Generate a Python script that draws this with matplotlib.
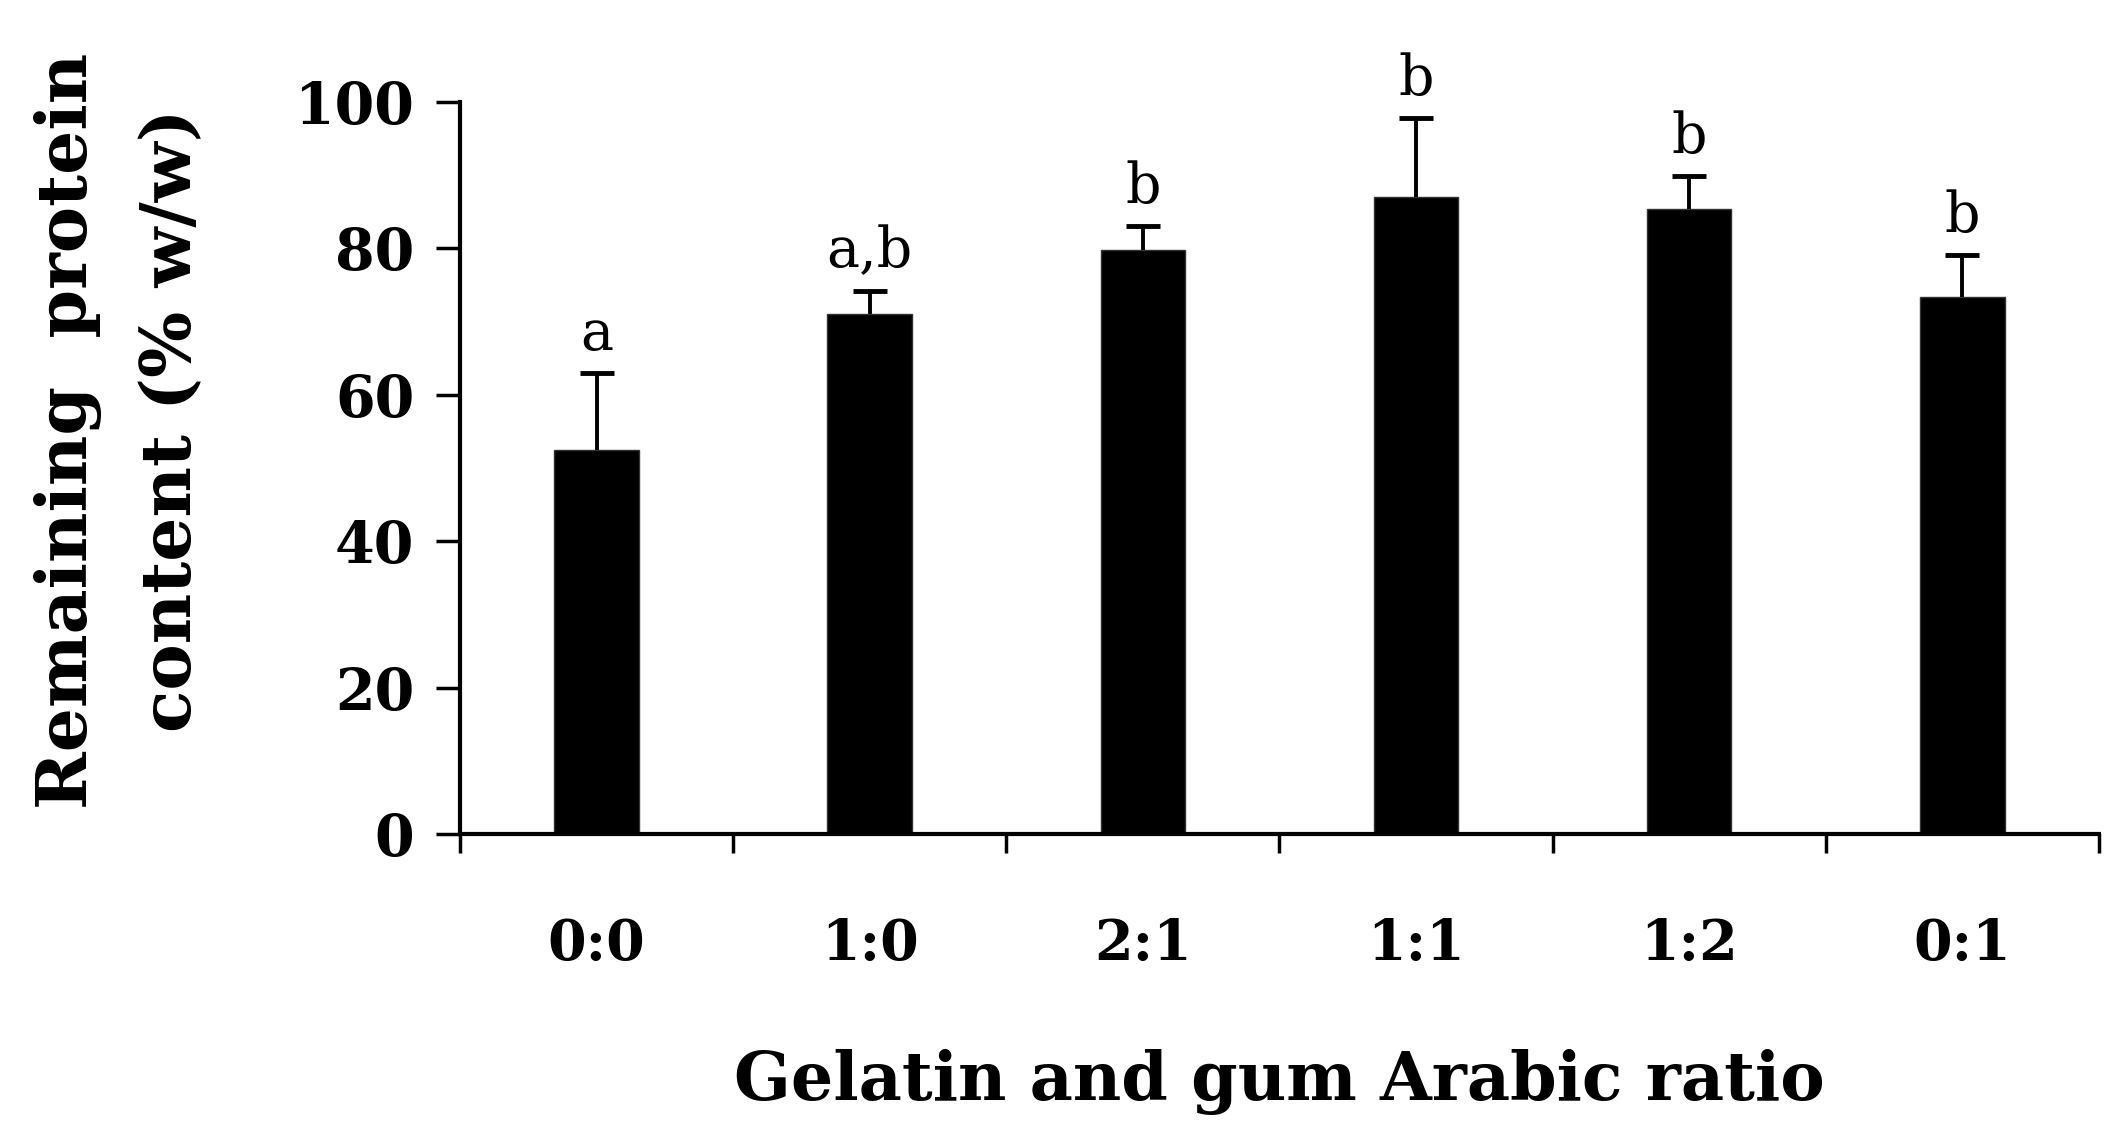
import matplotlib
matplotlib.use("Agg")
import matplotlib.pyplot as plt
import numpy as np

categories = ["0:0", "1:0", "2:1", "1:1", "1:2", "0:1"]
values = [52.4, 71.0, 79.7, 87.0, 85.3, 73.3]
errors = [10.5, 3.2, 3.3, 10.7, 4.5, 5.7]
letters = ["a", "a,b", "b", "b", "b", "b"]
yticks = [0, 20, 40, 60, 80, 100]

plt.rcParams['font.family'] = ['DejaVu Serif']

fig = plt.figure(figsize=(21.2, 11.41), dpi=100)
ax = fig.add_axes([0.217, 0.269, 0.773, 0.642])

x = np.arange(len(categories))
ax.bar(x, values, width=0.31, color="black", edgecolor="#333333", linewidth=1)
eb = ax.errorbar(x, values, yerr=[np.zeros(len(errors)), errors], fmt="none",
                 ecolor="black", elinewidth=2.8, capsize=12, capthick=3.5)
caps = eb[1]
if len(caps) == 2:
    caps[0].set_visible(False)

for xi, v, e, t in zip(x, values, errors, letters):
    ax.annotate(t, (xi, v + e), xytext=(0, 8), textcoords="offset points",
                ha="center", va="bottom", fontsize=40)

ax.set_xlim(-0.5, len(categories) - 0.5)
ax.set_ylim(0, 100)
ax.set_yticks(yticks)
ax.set_yticklabels([str(t) for t in yticks], fontsize=41, fontweight="bold")
ax.set_xticks(np.arange(-0.5, len(categories), 1.0))
ax.set_xticklabels([])
ax.set_xticks(x, minor=True)
ax.set_xticklabels(categories, minor=True, fontsize=40, fontweight="bold")
ax.tick_params(axis="x", which="minor", length=0, pad=60)
ax.tick_params(axis="x", which="major", direction="out", length=14, width=2.5)
ax.tick_params(axis="y", direction="out", length=17, width=2.5, pad=16)

for s in ["top", "right"]:
    ax.spines[s].set_visible(False)
for s in ["left", "bottom"]:
    ax.spines[s].set_linewidth(3)

fig.text(0.6035, 0.052, "Gelatin and gum Arabic ratio", ha="center", va="center",
         fontsize=48, fontweight="bold")
fig.text(0.032, 0.622, "Remaining  protein", rotation=90, ha="center", va="center",
         fontsize=50, fontweight="bold")
fig.text(0.081, 0.632, "content (% w/w)", rotation=90, ha="center", va="center",
         fontsize=50, fontweight="bold")

fig.savefig("out.png", dpi=100)
